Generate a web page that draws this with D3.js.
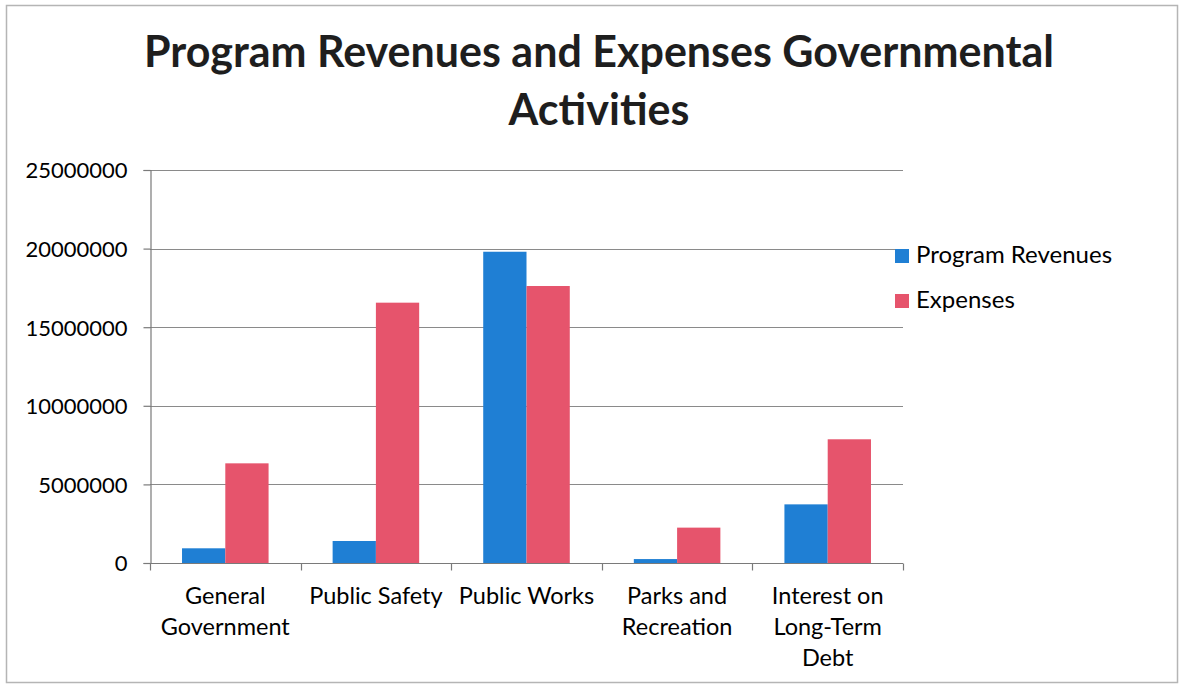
<!DOCTYPE html>
<html>
<head>
<meta charset="utf-8">
<script src="https://cdn.jsdelivr.net/npm/d3@7"></script>
<style>
  html, body { margin: 0; padding: 0; background: #fff; }
  svg text { font-family: Lato, "Open Sans", sans-serif; fill: #000; }
</style>
</head>
<body>
<svg id="chart" width="1182" height="688"></svg>
<script>
// Program revenues vs. expenses by governmental activity
const categories = [
  ["General", "Government"],
  ["Public Safety"],
  ["Public Works"],
  ["Parks and", "Recreation"],
  ["Interest on", "Long-Term", "Debt"]
];
const seriesNames = ["Program Revenues", "Expenses"];
const programRevenues = [935000, 1400000, 19800000, 250000, 3730000];
const expenses = [6340000, 16560000, 17620000, 2250000, 7870000];
const yTicks = [0, 5000000, 10000000, 15000000, 20000000, 25000000];
const colors = ["#1f7fd4", "#e6546c"];

const svg = d3.select("#chart");
const plot = { left: 150, right: 903, top: 170, bottom: 563 };

// outer chart border
svg.append("rect")
  .attr("x", 6.5).attr("y", 5.5)
  .attr("width", 1171).attr("height", 677)
  .attr("fill", "#fff").attr("stroke", "#b5b5b5").attr("stroke-width", 1.5);

// title
const title = svg.append("g").attr("font-weight", 700);
title.append("text").attr("x", 599).attr("y", 67).attr("text-anchor", "middle")
  .attr("font-size", 43).style("fill", "#1e1e1e")
  .text("Program Revenues and Expenses Governmental");
title.append("text").attr("x", 599).attr("y", 125).attr("text-anchor", "middle")
  .attr("font-size", 43).style("fill", "#1e1e1e")
  .text("Activities");

const keys = categories.map(c => c.join(" "));
const x0 = d3.scaleBand().domain(keys).range([plot.left, plot.right]).padding(0);
const x1 = d3.scaleBand().domain(seriesNames).range([0, x0.bandwidth()])
  .paddingInner(0).paddingOuter(0.74);
const y = d3.scaleLinear().domain([0, 25000000]).range([plot.bottom, plot.top]);

// gridlines
svg.append("g").selectAll("line").data(yTicks.filter(d => d > 0)).join("line")
  .attr("x1", plot.left).attr("x2", plot.right)
  .attr("y1", d => Math.round(y(d)) + 0.5).attr("y2", d => Math.round(y(d)) + 0.5)
  .attr("stroke", "#8a8a8a").attr("stroke-width", 1.2);

// y axis
const yAxis = svg.append("g").attr("transform", `translate(${plot.left + 0.5},0)`)
  .call(d3.axisLeft(y).tickValues(yTicks).tickSize(7).tickPadding(16).tickFormat(d3.format("d")));
yAxis.select(".domain").attr("stroke", "#7a7a7a").attr("stroke-width", 1.2);
yAxis.selectAll(".tick line").attr("stroke", "#7a7a7a").attr("stroke-width", 1.2);
yAxis.selectAll(".tick text").attr("font-size", 22).attr("fill", "#000")
  .style("font-family", "Lato, sans-serif").attr("dy", "0.36em");

// bars
const groups = svg.append("g").selectAll("g").data(keys).join("g")
  .attr("transform", d => `translate(${x0(d)},0)`);
groups.selectAll("rect")
  .data((d, i) => [
    { s: seriesNames[0], v: programRevenues[i] },
    { s: seriesNames[1], v: expenses[i] }
  ])
  .join("rect")
  .attr("x", d => x1(d.s))
  .attr("width", x1.bandwidth())
  .attr("y", d => y(d.v))
  .attr("height", d => y(0) - y(d.v))
  .attr("fill", (d, i) => colors[i]);

// x axis with ticks at category boundaries
const xAxisG = svg.append("g").attr("transform", `translate(0,${plot.bottom + 0.5})`);
xAxisG.append("line").attr("x1", plot.left).attr("x2", plot.right)
  .attr("stroke", "#7a7a7a").attr("stroke-width", 1.2);
const boundaries = keys.map(k => x0(k)).concat([plot.right]);
xAxisG.selectAll("line.tk").data(boundaries).join("line").attr("class", "tk")
  .attr("x1", d => Math.round(d) + 0.5).attr("x2", d => Math.round(d) + 0.5)
  .attr("y1", 0).attr("y2", 7)
  .attr("stroke", "#7a7a7a").attr("stroke-width", 1.2);

// category labels
const labels = svg.append("g").selectAll("text").data(categories).join("text")
  .attr("x", (d, i) => x0(keys[i]) + x0.bandwidth() / 2)
  .attr("y", 604)
  .attr("text-anchor", "middle")
  .attr("font-size", 23.5);
labels.selectAll("tspan").data(d => d).join("tspan")
  .attr("x", function () { return d3.select(this.parentNode).attr("x"); })
  .attr("dy", (d, i) => i === 0 ? 0 : 31)
  .text(d => d);

// legend
const legend = svg.append("g").attr("transform", "translate(895,249)");
seriesNames.forEach((name, i) => {
  const g = legend.append("g").attr("transform", `translate(0,${i * 45})`);
  g.append("rect").attr("width", 14).attr("height", 14).attr("fill", colors[i]);
  g.append("text").attr("x", 21).attr("y", 14).attr("font-size", 24).text(name);
});
</script>
</body>
</html>
